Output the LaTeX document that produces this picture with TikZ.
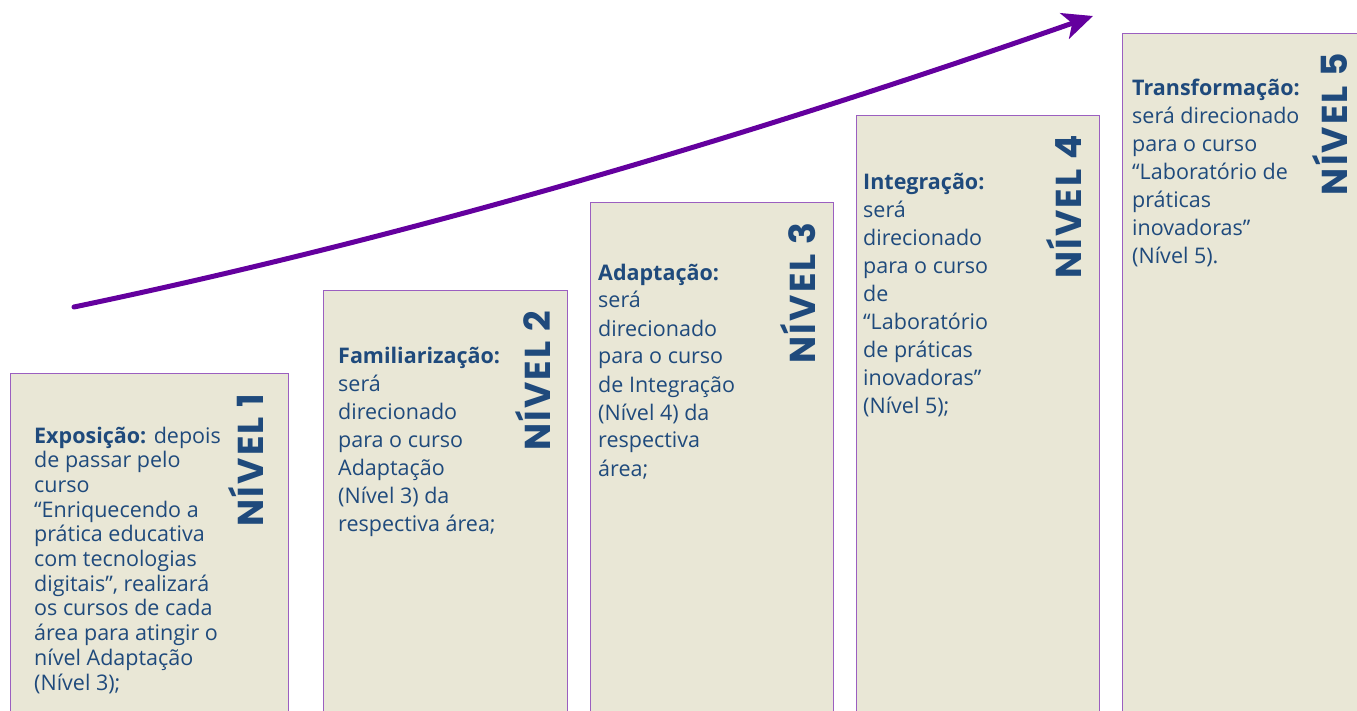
\documentclass[tikz,border=0pt]{standalone}
\usepackage{fontspec}
\setmainfont{Open Sans}
\newfontfamily\lblfont{Poppins}[LetterSpace=6]
\usetikzlibrary{arrows.meta}
\definecolor{boxfill}{HTML}{E9E7D6}
\definecolor{boxline}{HTML}{9B5FC0}
\definecolor{txt}{HTML}{1F4A7C}
\definecolor{arrcol}{HTML}{64009E}
\newcommand\tline[1]{\hbox{#1}}
\tikzset{
  levelbox/.style={fill=boxfill, draw=boxline, line width=1pt, anchor=north west, inner sep=0, minimum height=720pt},
  bodytext/.style={anchor=base west, inner sep=0, text=txt, font=\fontsize{21.5}{28}\selectfont},
  levellabel/.style={rotate=90, anchor=base, text=txt, font=\lblfont\bfseries\fontsize{36}{36}\selectfont, inner sep=0},
  growth/.style={draw=arrcol, line width=5pt, line cap=round, -{Stealth[length=30pt,width=27pt,inset=8pt]}}
}
\begin{document}
\begin{tikzpicture}[x=1pt,y=-1pt]
\useasboundingbox (0,0) rectangle (1357,711);
\node[levelbox, minimum width=278pt] (b1) at (10,373) {};
\node[levelbox, minimum width=244pt] (b2) at (323,290) {};
\node[levelbox, minimum width=243pt] (b3) at (590,202) {};
\node[levelbox, minimum width=243pt] (b4) at (856,115) {};
\node[levelbox, minimum width=245pt] (b5) at (1122,33) {};

\node[bodytext] (t1) at (34,443) {\vtop{\baselineskip=24.7pt
\tline{\textbf{Exposição:} depois}
\tline{de passar pelo}
\tline{curso}
\tline{“Enriquecendo a}
\tline{prática educativa}
\tline{com tecnologias}
\tline{digitais”, realizará}
\tline{os cursos de cada}
\tline{área para atingir o}
\tline{nível Adaptação}
\tline{(Nível 3);}}};

\node[bodytext] (t2) at (338,363) {\vtop{\baselineskip=28pt
\tline{\textbf{Familiarização:}}
\tline{será}
\tline{direcionado}
\tline{para o curso}
\tline{Adaptação}
\tline{(Nível 3) da}
\tline{respectiva área;}}};

\node[bodytext] (t3) at (598,280) {\vtop{\baselineskip=28pt
\tline{\textbf{Adaptação:}}
\tline{será}
\tline{direcionado}
\tline{para o curso}
\tline{de Integração}
\tline{(Nível 4) da}
\tline{respectiva}
\tline{área;}}};

\node[bodytext] (t4) at (863,190) {\vtop{\baselineskip=28pt
\tline{\textbf{Integração:}}
\tline{será}
\tline{direcionado}
\tline{para o curso}
\tline{de}
\tline{“Laboratório}
\tline{de práticas}
\tline{inovadoras”}
\tline{(Nível 5);}}};

\node[bodytext] (t5) at (1132,96) {\vtop{\baselineskip=28pt
\tline{\textbf{Transformação:}}
\tline{será direcionado}
\tline{para o curso}
\tline{“Laboratório de}
\tline{práticas}
\tline{inovadoras”}
\tline{(Nível 5).}}};

\node[levellabel] (l1) at (263,460) {NÍVEL 1};
\node[levellabel] (l2) at (550,381) {NÍVEL 2};
\node[levellabel] (l3) at (815,293) {NÍVEL 3};
\node[levellabel] (l4) at (1081,207) {NÍVEL 4};
\node[levellabel] (l5) at (1347,124) {NÍVEL 5};

\coordinate (as) at (74,307);
\coordinate (ae) at (1093,16);
\draw[growth] (as) .. controls (414,236) and (753,135) .. (ae);
\end{tikzpicture}
\end{document}
